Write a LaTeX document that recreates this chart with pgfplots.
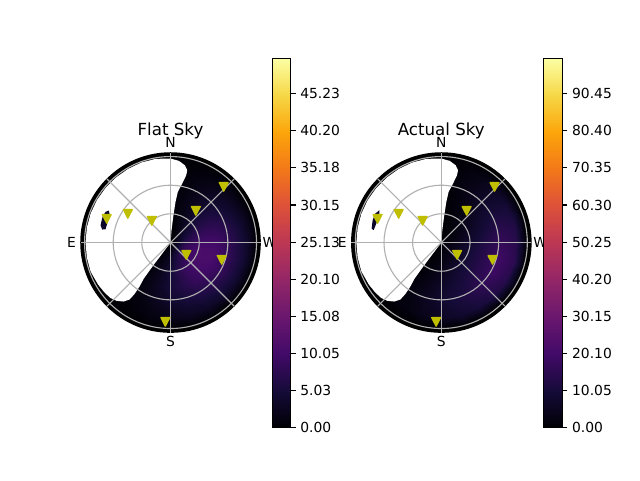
\documentclass[border=0pt]{standalone}
\usepackage{pgfplots}
\usepackage{pgfplotstable}
\usepackage{fontspec}
\setmainfont{DejaVu Sans}
\pgfplotsset{compat=1.18}
\definecolor{gridc}{HTML}{B0B0B0}
\definecolor{ymark}{rgb}{0.75,0.75,0}
\definecolor{blobc}{HTML}{0C0628}
\pgfdeclareplotmark{vtri}{%
  \pgfsetlinewidth{1.04pt}\pgfsetroundjoin
  \pgfpathmoveto{\pgfqpoint{-3.3pt}{3.2pt}}%
  \pgfpathlineto{\pgfqpoint{3.3pt}{3.2pt}}%
  \pgfpathlineto{\pgfqpoint{0pt}{-3.2pt}}%
  \pgfpathclose\pgfusepathqfillstroke}
\pgfplotsset{
  colormap={inferno}{rgb255=(0,0,4) rgb255=(22,11,57) rgb255=(66,10,104) rgb255=(106,23,110) rgb255=(147,38,103) rgb255=(188,55,84) rgb255=(221,81,58) rgb255=(243,120,25) rgb255=(252,165,10) rgb255=(246,215,70) rgb255=(252,255,164)},
  sky/.style={scale only axis,width=135pt,height=135pt,xmin=-90,xmax=90,ymin=-90,ymax=90,
    anchor=south west,clip=false,xtick=\empty,ytick=\empty,axis line style={draw=none},
    colormap name=inferno,point meta min=0,colorbar},
}
% vertices of the masked (white) region, px from centre
\pgfplotstableread{
x y
0 0
1 12.3
2.7 25.7
5 40.7
7.3 50.7
11.7 59
15.7 67.3
16.7 72.3
14.3 77.3
8.3 81.7
0 84
-14.8 83.7
-29.2 80
-42.5 73.6
-54.6 65
-65 54.6
-73.6 42.5
-79.9 29
-83.7 14.8
-85 0
-83.7 -14.8
-79.9 -29
-72.5 -42
-66 -50
-60 -55.5
-54 -58.3
-47 -59
-41 -57
-36 -51.5
-31 -44
-26.7 -36
-18.3 -24.3
-8.3 -11
}\maskpts
\pgfplotstableread{
x y
-61.7 32
-65 30.7
-68 25.7
-70 17.3
-68.3 13
-65 13.3
-63.3 19
-60.7 27.3
}\blobflat
\pgfplotstableread{
x y
-62 32.3
-66 29
-68.7 22.3
-69.7 14
-67.7 12.3
-65 19
-62 28
}\blobactual
\pgfplotstableread{
x y
53.2 55.7
25.3 31.7
-18.7 21.7
-42.7 28.7
-63.8 23.7
15.8 -12.3
51.2 -17.3
-5.2 -79.3
}\markers
\pgfplotstableread[row sep=\\]{
r t v\\
0 90 0\\0 75 0\\0 60 0\\0 45 0\\0 30 0\\0 15 0\\0 0 0\\0 -15 0\\0 -30 0\\0 -45 0\\0 -60 0\\0 -75 0\\0 -90 0\\0 -105 0\\0 -120 0\\0 -135 0\\0 -150 0\\
15 90 0\\15 75 0.5\\15 60 1.5\\15 45 3\\15 30 4.5\\15 15 6\\15 0 7.5\\15 -15 8.5\\15 -30 8.5\\15 -45 8\\15 -60 6.5\\15 -75 5\\15 -90 3.5\\15 -105 2\\15 -120 1\\15 -135 0.3\\15 -150 0\\
30 90 0\\30 75 1\\30 60 2.5\\30 45 4.5\\30 30 6.5\\30 15 8.5\\30 0 10\\30 -15 11\\30 -30 11\\30 -45 10.5\\30 -60 9\\30 -75 7\\30 -90 5\\30 -105 3\\30 -120 1.5\\30 -135 0.4\\30 -150 0\\
45 90 0\\45 75 1\\45 60 2.5\\45 45 4.5\\45 30 6.5\\45 15 8.5\\45 0 10\\45 -15 10.8\\45 -30 10.5\\45 -45 9.5\\45 -60 8.2\\45 -75 6.5\\45 -90 5\\45 -105 3\\45 -120 1.5\\45 -135 0.4\\45 -150 0\\
60 90 0\\60 75 0.8\\60 60 2\\60 45 3.5\\60 30 5\\60 15 6.5\\60 0 7.5\\60 -15 8\\60 -30 7.8\\60 -45 7\\60 -60 6\\60 -75 5\\60 -90 3.8\\60 -105 2.5\\60 -120 1.2\\60 -135 0.3\\60 -150 0\\
75 90 0.2\\75 75 0.4\\75 60 1\\75 45 1.8\\75 30 2.6\\75 15 3.4\\75 0 4\\75 -15 4.4\\75 -30 4.3\\75 -45 3.8\\75 -60 3.3\\75 -75 2.8\\75 -90 2\\75 -105 1.3\\75 -120 0.6\\75 -135 0.1\\75 -150 0\\
86 90 0\\86 75 0\\86 60 0\\86 45 0\\86 30 0\\86 15 0\\86 0 0\\86 -15 0\\86 -30 0\\86 -45 0\\86 -60 0\\86 -75 0\\86 -90 0\\86 -105 0\\86 -120 0\\86 -135 0\\86 -150 0\\
}\flatsky
\pgfplotstableread[row sep=\\]{
r t v\\
0 90 0\\0 75 0\\0 60 0\\0 45 0\\0 30 0\\0 15 0\\0 0 0\\0 -15 0\\0 -30 0\\0 -45 0\\0 -60 0\\0 -75 0\\0 -90 0\\0 -105 0\\0 -120 0\\0 -135 0\\0 -150 0\\
15 90 0\\15 75 0.3\\15 60 0.8\\15 45 1.5\\15 30 2.5\\15 15 3.5\\15 0 4.5\\15 -15 5\\15 -30 5\\15 -45 4.5\\15 -60 3.8\\15 -75 3\\15 -90 2\\15 -105 1\\15 -120 0.5\\15 -135 0.1\\15 -150 0\\
30 90 0\\30 75 0.8\\30 60 2\\30 45 3.5\\30 30 5\\30 15 7\\30 0 8.5\\30 -15 9.5\\30 -30 9.5\\30 -45 9\\30 -60 8\\30 -75 6.5\\30 -90 4.5\\30 -105 2.8\\30 -120 1.2\\30 -135 0.3\\30 -150 0\\
45 90 0\\45 75 1.2\\45 60 3\\45 45 5.5\\45 30 8\\45 15 10.5\\45 0 13\\45 -15 14\\45 -30 14\\45 -45 13\\45 -60 11\\45 -75 9\\45 -90 7\\45 -105 4.5\\45 -120 2\\45 -135 0.5\\45 -150 0\\
60 90 0\\60 75 1.5\\60 60 4\\60 45 7\\60 30 10\\60 15 14\\60 0 17\\60 -15 19\\60 -30 18.5\\60 -45 16\\60 -60 13\\60 -75 10.5\\60 -90 8\\60 -105 5.5\\60 -120 2.5\\60 -135 0.5\\60 -150 0\\
75 90 0\\75 75 1\\75 60 3\\75 45 6\\75 30 9\\75 15 12\\75 0 14\\75 -15 15\\75 -30 14\\75 -45 12\\75 -60 10\\75 -75 8\\75 -90 6\\75 -105 4\\75 -120 2\\75 -135 0.4\\75 -150 0\\
86 90 0\\86 75 0\\86 60 0\\86 45 0\\86 30 0\\86 15 0\\86 0 0\\86 -15 0\\86 -30 0\\86 -45 0\\86 -60 0\\86 -75 0\\86 -90 0\\86 -105 0\\86 -120 0\\86 -135 0\\86 -150 0\\
}\actualsky
% #1 table, #2 blob
\newcommand{\skyplot}[3]{%
  \fill[black] (axis cs:0,0) circle[radius=90.3];
  \addplot[surf,shader=interp,mesh/cols=17,point meta=explicit] table[x expr=\thisrow{r}*cos(\thisrow{t}),y expr=\thisrow{r}*sin(\thisrow{t}),meta=v] {#1};
  \addplot[fill=white,draw=none] table {\maskpts} -- cycle;
  \addplot[fill=blobc,draw=none] table {#2} -- cycle;
  \draw[gridc,line width=0.83pt] (axis cs:0,0) circle[radius=28.7];
  \draw[gridc,line width=0.83pt] (axis cs:0,0) circle[radius=57.3];
  \draw[gridc,line width=0.83pt] (axis cs:0,0) circle[radius=86];
  \addplot[gridc,line width=0.83pt] coordinates {(-90,0) (90,0)};
  \addplot[gridc,line width=0.83pt] coordinates {(0,-90) (0,90)};
  \addplot[gridc,line width=0.83pt] coordinates {(-63.6,-63.6) (63.6,63.6)};
  \addplot[gridc,line width=0.83pt] coordinates {(-63.6,63.6) (63.6,-63.6)};
  \addplot[only marks,mark=vtri,color=ymark,fill=ymark] table {\markers};
  \node[anchor=base,font=\fontsize{12.5}{15}\selectfont,text=black] at (axis cs:0,107.3) {#3};
  \node[anchor=base,font=\fontsize{10.4}{12}\selectfont,text=black] at (axis cs:0,95) {N};
  \node[anchor=base,font=\fontsize{10.4}{12}\selectfont,text=black] at (axis cs:0,-103.7) {S};
  \node[anchor=base,font=\fontsize{10.4}{12}\selectfont,text=black] at (axis cs:-99,-5) {E};
  \node[anchor=base,font=\fontsize{10.4}{12}\selectfont,text=black] at (axis cs:99,-5) {W};
}
\begin{document}
\begin{tikzpicture}[x=1pt,y=1pt]
\path[use as bounding box] (0,0) rectangle (480,360);
\begin{axis}[sky,at={(60.4pt,110.6pt)},point meta max=50,
  colorbar style={at={(1.068,-0.528)},anchor=south west,scale only axis,width=13.5pt,height=276.8pt,
    axis line style={line width=0.83pt},tick style={line width=0.83pt,black},major tick length=3.65pt,tick align=outside,
    ytick pos=right,
    ytick={0,5.03,10.05,15.08,20.10,25.13,30.15,35.18,40.20,45.23},
    yticklabels={0.00,5.03,10.05,15.08,20.10,25.13,30.15,35.18,40.20,45.23},
    yticklabel style={font=\fontsize{10.4}{12}\selectfont,text=black}}]
\skyplot{\flatsky}{\blobflat}{Flat Sky}
\end{axis}
\begin{axis}[sky,at={(263.5pt,110.6pt)},point meta max=100,
  colorbar style={at={(1.07,-0.528)},anchor=south west,scale only axis,width=14pt,height=276.8pt,
    axis line style={line width=0.83pt},tick style={line width=0.83pt,black},major tick length=3.65pt,tick align=outside,
    ytick pos=right,
    ytick={0,10.05,20.10,30.15,40.20,50.25,60.30,70.35,80.40,90.45},
    yticklabels={0.00,10.05,20.10,30.15,40.20,50.25,60.30,70.35,80.40,90.45},
    yticklabel style={font=\fontsize{10.4}{12}\selectfont,text=black}}]
\skyplot{\actualsky}{\blobactual}{Actual Sky}
\end{axis}
\end{tikzpicture}
\end{document}
